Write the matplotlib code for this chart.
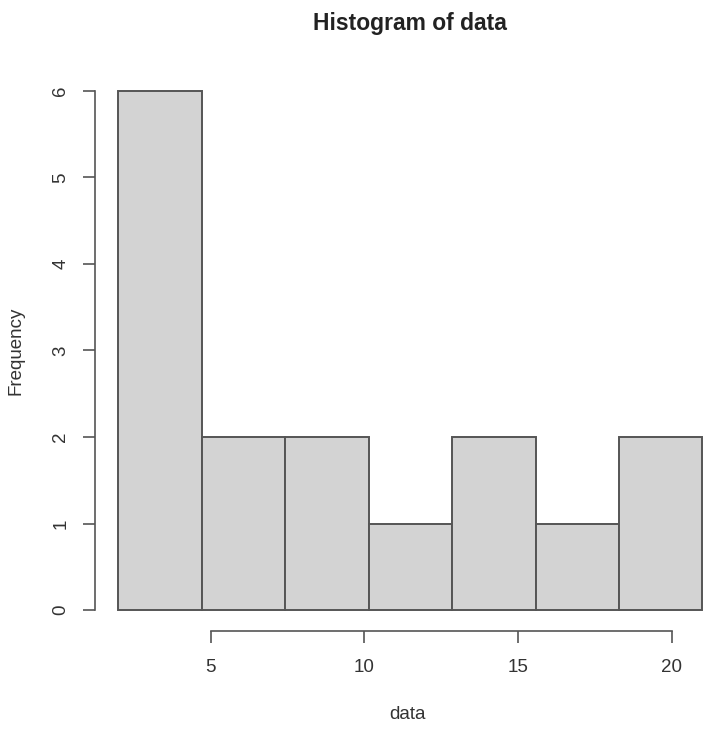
import numpy as np
import matplotlib
matplotlib.use("Agg")
import matplotlib.pyplot as plt

# histogram
bin_edges = [2.0, 4.714, 7.429, 10.143, 12.857, 15.571, 18.286, 21.0]
counts = [6, 2, 2, 1, 2, 1, 2]
x_ticks = [5, 10, 15, 20]
y_ticks = [0, 1, 2, 3, 4, 5, 6]

FG = "#333333"
AXC = "#555555"

plt.rcParams["font.family"] = ["Liberation Sans", "DejaVu Sans"]

fig = plt.figure(figsize=(7.2, 7.38), dpi=100)
ax = fig.add_axes([95 / 720, (738 - 631) / 738, 625 / 720, 561 / 738])

edges = np.array(bin_edges)
ax.bar(edges[:-1], counts, width=np.diff(edges), align="edge",
       color="#d3d3d3", edgecolor="#555555", linewidth=1.4)

ax.set_xlim(1.24, 1.24 + 625 / 30.74)
ax.set_ylim(-0.24, 6.24)

for s in ["top", "right"]:
    ax.spines[s].set_visible(False)
ax.spines["left"].set_bounds(0, 6)
ax.spines["bottom"].set_bounds(5, 20)
for s in ["left", "bottom"]:
    ax.spines[s].set_color(AXC)
    ax.spines[s].set_linewidth(1.2)

ax.set_xticks(x_ticks)
ax.set_yticks(y_ticks)
ax.tick_params(axis="both", length=8.5, width=1.2, color=AXC,
               labelsize=13.5, labelcolor=FG)
ax.tick_params(axis="x", pad=12)
ax.tick_params(axis="y", pad=10)
plt.setp(ax.get_yticklabels(), rotation=90, va="center")

ax.set_xlabel("data", fontsize=13.5, color=FG, labelpad=21)
ax.set_ylabel("Frequency", fontsize=13.5, color=FG, labelpad=20)
fig.text(0.570, 0.968, "Histogram of data", fontsize=16.5, fontweight="bold",
         color="#222222", ha="center", va="center")

fig.savefig("out.png", dpi=100)
